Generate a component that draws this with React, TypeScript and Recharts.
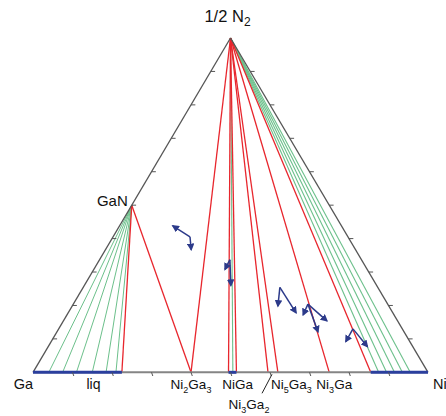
// App.tsx - Ga–Ni–N ternary isotherm
import { ScatterChart, Scatter, XAxis, YAxis, ReferenceDot } from 'recharts';

// compositions are at.% N and at.% Ni (Ga is the rest)
const apex = { n: 100, ni: 0 };
const gaN = { n: 50, ni: 0 };

// tie lines from 1/2 N2 down to the Ga–Ni edge (at.% Ni)
const apexRed = [40, 49.5, 51.5, 59.5, 62, 75, 85.5];
const apexGreen = [50.6, 87.5, 89.5, 91.5, 93.5, 95.5];

// tie lines from GaN to the Ga–Ni edge
const ganRed = [22.5, 40];
const ganGreen = [4, 7.5, 11, 15, 18.5, 21];

// single phase stretches on the Ga–Ni edge
const bluePhases = [
  [0, 22.5],
  [49.5, 51.5],
  [85.5, 100],
];

const tickValues = [10, 20, 30, 40, 50, 60, 70, 80, 90];

// diffusion path arrows: origin and tips (N, Ni)
const arrows = [
  { from: [40.5, 19.5], to: [[43.8, 13.5], [36.7, 21.7]] },
  { from: [33.7, 33.0], to: [[30.8, 33.2], [26.0, 37.1]] },
  { from: [25.4, 49.8], to: [[19.8, 52.1], [17.8, 57.7]] },
  { from: [20.4, 59.4], to: [[17.2, 59.8], [15.4, 66.7], [12.1, 66.1]] },
  { from: [13.0, 74.5], to: [[9.2, 74.6], [7.7, 80.8]] },
];

// label text parts: [text, isSubscript]
type Part = [string, boolean];
const labels: { n: number; ni: number; parts: Part[]; anchor: string; dx: number; dy: number; size: number; leader?: boolean }[] = [
  { n: 100, ni: 0, parts: [['1/2 N', false], ['2', true]], anchor: 'middle', dx: -3, dy: -16, size: 16.5 },
  { n: 50, ni: 0, parts: [['GaN', false]], anchor: 'end', dx: -4, dy: 1, size: 15 },
  { n: 0, ni: 0, parts: [['Ga', false]], anchor: 'end', dx: 0, dy: 17, size: 14.5 },
  { n: 0, ni: 15.3, parts: [['liq', false]], anchor: 'middle', dx: 0, dy: 17, size: 14 },
  { n: 0, ni: 40, parts: [['Ni', false], ['2', true], ['Ga', false], ['3', true]], anchor: 'middle', dx: 0, dy: 17, size: 13.5 },
  { n: 0, ni: 51.8, parts: [['NiGa', false]], anchor: 'middle', dx: 0, dy: 17, size: 13.5 },
  { n: 0, ni: 62, parts: [['Ni', false], ['5', true], ['Ga', false], ['3', true]], anchor: 'start', dx: -7, dy: 17, size: 13.5 },
  { n: 0, ni: 75, parts: [['Ni', false], ['3', true], ['Ga', false]], anchor: 'middle', dx: 5, dy: 17, size: 13.5 },
  { n: 0, ni: 100, parts: [['Ni', false]], anchor: 'start', dx: 5, dy: 17, size: 14.5 },
  { n: 0, ni: 60, parts: [['Ni', false], ['3', true], ['Ga', false], ['2', true]], anchor: 'middle', dx: -21, dy: 37, size: 13.5, leader: true },
];

const RED = '#e8262d';
const GREEN = '#6cc08b';
const BLUE = '#2b3f9e';
const NAVY = '#2c3a8a';
const EDGE = '#555555';

type P = { x: number; y: number };
// ternary -> cartesian
const pt = (n: number, ni: number): P => ({ x: (ni + n / 2) / 100, y: n / 100 });

const makeLabel = (parts: Part[], anchor: string, dx: number, dy: number, size: number, leader?: boolean) => (props: any) => {
  const { x, y } = props.viewBox;
  const sub = Math.round(size * 0.7);
  return (
    <g>
      {leader && <line x1={x + 2} y1={y + 2} x2={x - 8} y2={y + 21} stroke="#222" strokeWidth={1} />}
      <text x={x + dx} y={y + dy} textAnchor={anchor} fontSize={size} fill="#111" fontFamily="Liberation Sans, Arial, sans-serif">
        {parts.map(([t, isSub], i) => {
          const prevSub = i > 0 && parts[i - 1][1];
          const shift = isSub && !prevSub ? 4 : !isSub && prevSub ? -4 : 0;
          return (
            <tspan key={i} dy={shift} fontSize={isSub ? sub : size}>
              {t}
            </tspan>
          );
        })}
      </text>
    </g>
  );
};

const noDot = () => <g />;

export default function App() {
  const A = pt(apex.n, apex.ni);
  const G = pt(gaN.n, gaN.ni);
  const tick = 0.011;

  const segs: { id: string; pts: P[]; color: string; w: number; arrow?: boolean }[] = [];
  ganGreen.forEach((ni) => segs.push({ id: 'gg' + ni, pts: [G, pt(0, ni)], color: GREEN, w: 1 }));
  apexGreen.forEach((ni) => segs.push({ id: 'ag' + ni, pts: [A, pt(0, ni)], color: GREEN, w: 1.1 }));
  ganRed.forEach((ni) => segs.push({ id: 'gr' + ni, pts: [G, pt(0, ni)], color: RED, w: 1.3 }));
  apexRed.forEach((ni) => segs.push({ id: 'ar' + ni, pts: [A, pt(0, ni)], color: RED, w: 1.3 }));
  segs.push({ id: 'e1', pts: [pt(0, 0), A], color: EDGE, w: 1.3 });
  segs.push({ id: 'e2', pts: [A, pt(0, 100)], color: EDGE, w: 1.3 });
  segs.push({ id: 'e3', pts: [pt(0, 0), pt(0, 100)], color: '#858585', w: 2 });
  bluePhases.forEach(([a, b]) => segs.push({ id: 'b' + a, pts: [pt(0, a), pt(0, b)], color: BLUE, w: 3 }));
  tickValues.forEach((v) => {
    const b = pt(0, v);
    const l = pt(v, 0);
    const r = pt(v, 100 - v);
    segs.push({ id: 'tb' + v, pts: [b, { x: b.x + tick * 0.3, y: b.y - tick }], color: EDGE, w: 1 });
    segs.push({ id: 'tl' + v, pts: [l, { x: l.x + tick, y: l.y }], color: EDGE, w: 1 });
    segs.push({ id: 'tr' + v, pts: [r, { x: r.x + tick, y: r.y }], color: EDGE, w: 1 });
  });
  arrows.forEach((a, i) =>
    a.to.forEach((t, j) =>
      segs.push({ id: 'aw' + i + '-' + j, pts: [pt(a.from[0], a.from[1]), pt(t[0], t[1])], color: NAVY, w: 1.5, arrow: true })
    )
  );

  return (
    <div style={{ position: 'absolute', left: 0, top: 0, background: '#fff' }}>
      <ScatterChart width={446} height={416} margin={{ top: 38, right: 18, bottom: 40, left: 33 }}>
        <defs>
          <marker id="arr" viewBox="0 0 10 10" refX="8" refY="5" markerWidth="5" markerHeight="5" orient="auto">
            <path d="M0,0 L10,5 L0,10 z" fill={NAVY} />
          </marker>
        </defs>
        <XAxis type="number" dataKey="x" domain={[0, 1]} hide />
        <YAxis type="number" dataKey="y" domain={[0, 1]} hide />

        {segs.map((s) => (
          <Scatter
            key={s.id}
            data={s.pts}
            line={{ stroke: s.color, strokeWidth: s.w, markerEnd: s.arrow ? 'url(#arr)' : undefined }}
            lineType="joint"
            shape={noDot}
            isAnimationActive={false}
          />
        ))}

        {labels.map((lb, i) => {
          const p = pt(lb.n, lb.ni);
          return (
            <ReferenceDot
              key={'lb' + i}
              x={p.x}
              y={p.y}
              r={0}
              fill="none"
              stroke="none"
              ifOverflow="visible"
              label={makeLabel(lb.parts, lb.anchor, lb.dx, lb.dy, lb.size, lb.leader)}
            />
          );
        })}
      </ScatterChart>
    </div>
  );
}
